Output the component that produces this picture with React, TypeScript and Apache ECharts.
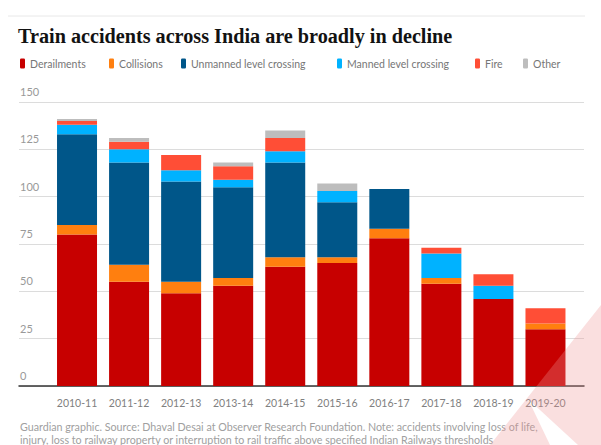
import React, { useEffect, useRef } from "react";
import * as echarts from "echarts";

const categories = ["2010-11", "2011-12", "2012-13", "2013-14", "2014-15", "2015-16", "2016-17", "2017-18", "2018-19", "2019-20"];
const derailments = [80, 55, 49, 53, 63, 65, 78, 54, 46, 30];
const collisions = [5, 9, 6, 4, 5, 3, 5, 3, 0, 3];
const unmanned = [48, 54, 53, 48, 50, 29, 21, 0, 0, 0];
const manned = [5, 7, 6, 4, 6, 6, 0, 13, 7, 0];
const fire = [2, 4, 8, 7, 7, 0, 0, 3, 6, 8];
const other = [1, 2, 0, 2, 4, 4, 0, 0, 0, 0];

const seriesNames = ["Derailments", "Collisions", "Unmanned level crossing", "Manned level crossing", "Fire", "Other"];
const seriesData = [derailments, collisions, unmanned, manned, fire, other];
const seriesColors = ["#c70000", "#ff7f0f", "#005689", "#00b2ff", "#ff4e36", "#bdbdbd"];
const legendLefts = [20, 109, 181, 337, 475, 523];

const title = "Train accidents across India are broadly in decline";
const footer1 = "Guardian graphic. Source: Dhaval Desai at Observer Research Foundation. Note: accidents involving loss of life,";
const footer2 = "injury, loss to railway property or interruption to rail traffic above specified Indian Railways thresholds";

const SANS = "Lato, 'Open Sans', sans-serif";

export default function App() {
  const ref = useRef<HTMLDivElement>(null);
  useEffect(() => {
    if (!ref.current) return;
    const chart = echarts.init(ref.current, undefined, { renderer: "svg" });
    const top = 102;
    const bottom = 445 - 386;
    chart.setOption({
      animation: false,
      backgroundColor: "#ffffff",
      title: {
        text: title,
        left: 18,
        top: 26,
        padding: 0,
        textStyle: { fontFamily: "'Liberation Serif', 'DejaVu Serif', serif", fontWeight: "bold", fontSize: 20.2, color: "#121212" },
      },
      legend: seriesNames.map((n, i) => ({
        data: [n],
        left: legendLefts[i],
        top: 58,
        padding: 0,
        itemWidth: 5,
        itemHeight: 10,
        icon: "roundRect",
        selectedMode: false,
        textStyle: { fontFamily: SANS, fontSize: 10.5, color: "#767676", padding: [1, 0, 0, 0] },
      })),
      grid: [
        { left: 19, right: 601 - 584, top, bottom },
        { left: 51, right: 601 - 571.5, top, bottom },
      ],
      xAxis: [
        {
          gridIndex: 0,
          type: "value",
          min: 0,
          max: 1,
          axisLine: { show: true, lineStyle: { color: "#333333", width: 1.5 } },
          axisTick: { show: false },
          axisLabel: { show: false },
          splitLine: { show: false },
        },
        {
          gridIndex: 1,
          type: "category",
          data: categories,
          axisLine: { show: false },
          axisTick: { show: false },
          axisLabel: { interval: 0, fontFamily: SANS, fontSize: 10.5, color: "#808080", margin: 11 },
        },
      ],
      yAxis: [
        {
          gridIndex: 0,
          type: "value",
          min: 0,
          max: 150,
          interval: 25,
          axisLine: { show: false },
          axisTick: { show: false },
          splitLine: { lineStyle: { color: "#dcdcdc", width: 1 } },
          axisLabel: {
            inside: true,
            margin: 1,
            verticalAlign: "bottom",
            padding: [0, 0, 5, 0],
            fontFamily: SANS,
            fontSize: 11,
            color: "#999999",
          },
        },
        {
          gridIndex: 1,
          type: "value",
          min: 0,
          max: 150,
          interval: 25,
          show: false,
        },
      ],
      series: seriesNames.map((n, i) => ({
        name: n,
        type: "bar",
        stack: "total",
        xAxisIndex: 1,
        yAxisIndex: 1,
        barWidth: 40,
        data: seriesData[i],
        itemStyle: { color: seriesColors[i] },
      })),
      graphic: [
        { type: "line", shape: { x1: 8, y1: 16, x2: 585, y2: 16 }, style: { stroke: "#e8e8e8", lineWidth: 1 } },
        {
          type: "text",
          x: 20,
          y: 426,
          style: { text: footer1, fontFamily: SANS, fontSize: 10.7, fill: "#a0a0a0", verticalAlign: "middle" },
        },
        {
          type: "text",
          x: 20,
          y: 439,
          style: { text: footer2, fontFamily: SANS, fontSize: 10.7, fill: "#a0a0a0", verticalAlign: "middle" },
        },
        {
          type: "polygon",
          z: 100,
          shape: { points: [[490, 445], [601, 305], [601, 445], [578, 445], [528, 399], [550, 445]] },
          style: { fill: "rgba(240,150,150,0.3)" },
        },
      ],
    });
    return () => chart.dispose();
  }, []);
  return <div ref={ref} style={{ position: "fixed", left: 0, top: 0, width: 601, height: 445 }} />;
}
